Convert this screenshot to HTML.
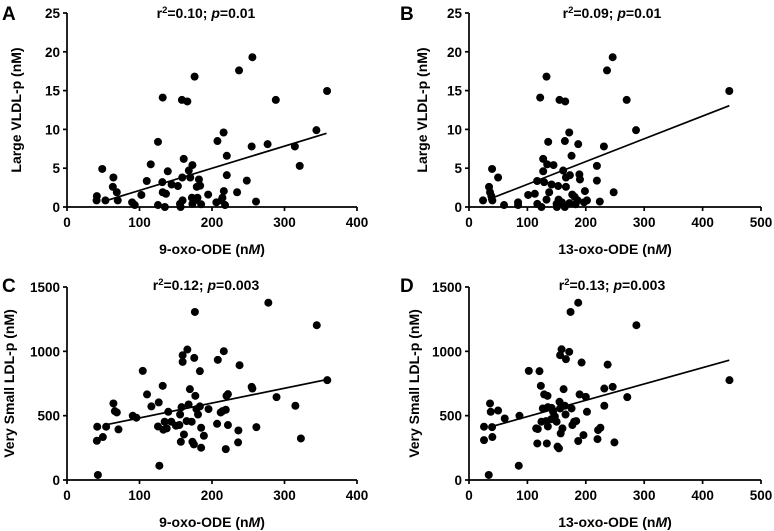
<!DOCTYPE html>
<html><head><meta charset="utf-8"><style>
html,body{margin:0;padding:0;background:#fff;}
svg{display:block;font-family:"Liberation Sans",Arial,sans-serif;font-weight:bold;}
</style></head><body>
<svg id="fig" width="774" height="531" viewBox="0 0 774 531" xmlns="http://www.w3.org/2000/svg"></svg>
<script>
// Panel A data: 9-oxo-ODE vs Large VLDL-p
const aX=[358.7,255.7,237.3,176,132,158.5,166,288,344,216,125.5,207.5,254.7,276.7,314.3,321,220.4,161,115.5,173,48.6,139,168,220.4,64,110,131.5,170,182,248,159,144.3,153,179,183.7,63.2,68.7,132,136.5,102.6,194.7,216.3,234.6,41.2,40.8,53,70,89.8,93.5,125.5,135,155.8,159.4,172.3,176,180,185,173,206,213,214.4,218,260.7,156.7];
const aY=[14.95,19.3,17.6,16.8,14.1,13.8,13.6,13.8,9.9,9.6,8.4,8.5,7.8,8.1,7.8,5.3,6.6,6.2,5.5,5.4,4.9,4.6,4.7,4.1,3.8,3.35,3.2,3.8,3.55,3.4,3.8,2.9,2.7,2.6,2.75,2.6,1.9,1.9,1.7,1.55,1.6,2.05,1.9,1.4,0.85,0.85,0.85,0.6,0.25,0.25,0,0.4,0.85,1.2,0.85,1.2,0.35,0.4,0.6,0.85,1.2,0.25,0.7,0];
const aFit=[[55,0.85],[358,9.5]];
// Panel B data: 13-oxo-ODE vs Large VLDL-p
const bX=[445.7,246,236.3,132.7,121.9,155,164.8,270,286,171.6,135.6,164.2,231,187,219,175.6,127,133.9,144.7,39.5,127,161.3,172.8,49.8,116.7,128.7,166,190,219,189,141.3,152.7,166,34.3,36,137.3,112.7,101.3,176.8,198.5,247.7,38.3,24,40,60,84,84,117,124,150,153.4,159,172,181,186,182.5,197,202,224,150.5,164,132.7];
const bY=[14.95,19.3,17.6,16.8,14.1,13.8,13.6,13.8,9.9,9.6,8.4,8.5,7.8,8.1,5.3,6.6,6.2,5.5,5.4,4.9,4.6,4.7,4.1,3.8,3.35,3.2,3.8,3.55,3.4,4.2,2.9,2.7,2.6,2.6,1.9,1.9,1.7,1.55,1.6,2.05,1.9,1.4,0.85,0.85,0.25,0.6,0.25,0.4,0,0.4,0.95,0.6,0.5,1.3,0.85,0.35,0.6,0.85,0.7,0,0,0.95];
const bFit=[[32.6,0.95],[445.7,13.06]];
// Panel C data: 9-oxo-ODE vs Very Small LDL-p
const cX=[42.6,127.4,41.2,49.5,41.7,54,64,66,68.7,71,90.7,95.7,104.5,110.4,116.4,126.5,132,125.5,132.9,134.7,139.7,137.5,143.9,150.3,155,156,158,159.5,159.5,166,167.7,169.5,175.5,176.4,177,178.5,180.7,183.3,183.3,185,185,188.8,161.3,157,165,172,173,175,195.2,207,208,212,214.4,216.3,219,220,222,222,219,236,236.4,238,254.7,255.7,261.2,289,315,322.6,344.5,277.7,359];
const cY=[39,111,305,334,414,414,595,535,525,393,499,484,848,665,572,603,732,416,391,453,530,401,453,422,427,509,566,918,970,1014,587,706,949,1306,654,551,509,572,846,406,251,344,354,297,458,453,297,277,551,437,934,525,535,1001,546,654,667,427,240,292,385,892,724,711,411,644,577,323,1203,1378,776];
const cFit=[[50,425],[358,780]];
// Panel D data: 13-oxo-ODE vs Very Small LDL-p
const dX=[33.8,85.2,25.7,25.7,36,37.2,39.5,40,49.8,61.2,86.4,102.4,120.7,123,128.7,134.4,126.4,135,141.3,115,117.8,117,133.3,124.1,132,135,141,144,147,150,151.6,154,155,156,157,160,158.5,156,162,164,166,165.3,171.6,173.9,175.6,177,180,183.6,187,187,189.4,192.8,196,200,202,220,221,225,231.7,231.7,237.4,246,249,271,286.6,446];
const dY=[39,111,414,310,595,530,411,334,540,478,499,848,846,732,665,654,556,566,561,401,396,284,284,453,458,416,473,530,494,453,259,246,608,556,362,401,1016,970,706,577,939,509,996,1306,556,427,453,458,1378,303,665,913,349,646,530,318,388,406,577,711,897,724,292,644,1203,776];
const dFit=[[33.8,409],[445.7,931]];

const NS="http://www.w3.org/2000/svg";
const svg=document.getElementById('fig');
function mk(tag,attrs,parent,txt){const e=document.createElementNS(NS,tag);for(const k in attrs)e.setAttribute(k,attrs[k]);if(txt!==undefined)e.textContent=txt;(parent||svg).appendChild(e);return e;}

function panel(o){
  const g=mk('g',{});
  
  
  const sx=v=>o.x0+(v-o.xmin)/(o.xmax-o.xmin)*(o.x1-o.x0);
  const sy=v=>o.y0-(v-o.ymin)/(o.ymax-o.ymin)*(o.y0-o.y1);
  const ax=mk('line',{x1:o.x0,y1:o.y0,x2:o.x1,y2:o.y0,stroke:'#000','stroke-width':1.7},g);
  
  
  const ay=mk('line',{x1:o.x0,y1:o.y0,x2:o.x0,y2:o.y1,stroke:'#000','stroke-width':1.7},g);
  
  
  o.xt.forEach(v=>{
    mk('line',{x1:sx(v),y1:o.y0,x2:sx(v),y2:o.y0+4,stroke:'#000','stroke-width':1.7},g);
    const t=mk('text',{x:sx(v),y:o.y0+20,'text-anchor':'middle','font-size':13.5},g,String(v));
    
    
  });
  o.yt.forEach(v=>{
    mk('line',{x1:o.x0-4,y1:sy(v),x2:o.x0,y2:sy(v),stroke:'#000','stroke-width':1.7},g);
    const t=mk('text',{x:o.x0-7,y:sy(v)+5,'text-anchor':'end','font-size':13.5},g,String(v));
    
    
  });
  o.xs.forEach((v,i)=>{
    const c=mk('circle',{cx:sx(v),cy:sy(o.ys[i]),r:4,fill:'#000'},g);
    
    
  });
  const fl=mk('line',{x1:sx(o.fit[0][0]),y1:sy(o.fit[0][1]),x2:sx(o.fit[1][0]),y2:sy(o.fit[1][1]),stroke:'#000','stroke-width':1.7},g);
  
  
  const lab=mk('text',{x:o.labX,y:o.titleY+2,'font-size':19},g,o.id);
  
  
  const ti=mk('text',{x:o.titleX,y:o.titleY,'text-anchor':'middle','font-size':14},g);
  
  
  mk('tspan',{},ti,'r');
  mk('tspan',{dy:-5,'font-size':9.5},ti,'2');
  mk('tspan',{dy:5},ti,'='+o.r2+'; ');
  mk('tspan',{'font-style':'italic'},ti,'p');
  mk('tspan',{},ti,'='+o.p);
  const xt=mk('text',{x:(o.x0+o.x1)/2,y:o.y0+47,'text-anchor':'middle','font-size':14},g);
  
  
  mk('tspan',{},xt,o.xlab+' (n');
  mk('tspan',{'font-style':'italic'},xt,'M');
  mk('tspan',{},xt,')');
  const cy=(o.y0+o.y1)/2;
  const yt=mk('text',{x:o.ylabX,y:cy,'text-anchor':'middle','font-size':14,transform:`rotate(-90 ${o.ylabX} ${cy})`},g,o.ylab);
  
  
}
panel({id:'A',x0:67,x1:357,y0:207,y1:13,xmin:0,xmax:400,ymin:0,ymax:25,xt:[0,100,200,300,400],yt:[0,5,10,15,20,25],xs:aX,ys:aY,fit:aFit,labX:2,titleX:206,titleY:18,r2:'0.10',p:'0.01',xlab:'9-oxo-ODE',ylab:'Large VLDL-p (nM)',ylabX:21});
panel({id:'B',x0:469,x1:761,y0:207,y1:13,xmin:0,xmax:500,ymin:0,ymax:25,xt:[0,100,200,300,400,500],yt:[0,5,10,15,20,25],xs:bX,ys:bY,fit:bFit,labX:400,titleX:612,titleY:18,r2:'0.09',p:'0.01',xlab:'13-oxo-ODE',ylab:'Large VLDL-p (nM)',ylabX:427});
panel({id:'C',x0:67,x1:357,y0:480,y1:287,xmin:0,xmax:400,ymin:0,ymax:1500,xt:[0,100,200,300,400],yt:[0,500,1000,1500],xs:cX,ys:cY,fit:cFit,labX:2,titleX:206,titleY:290,r2:'0.12',p:'0.003',xlab:'9-oxo-ODE',ylab:'Very Small LDL-p (nM)',ylabX:14});
panel({id:'D',x0:469,x1:761,y0:480,y1:287,xmin:0,xmax:500,ymin:0,ymax:1500,xt:[0,100,200,300,400,500],yt:[0,500,1000,1500],xs:dX,ys:dY,fit:dFit,labX:400,titleX:612,titleY:290,r2:'0.13',p:'0.003',xlab:'13-oxo-ODE',ylab:'Very Small LDL-p (nM)',ylabX:419});
</script>
</body></html>
